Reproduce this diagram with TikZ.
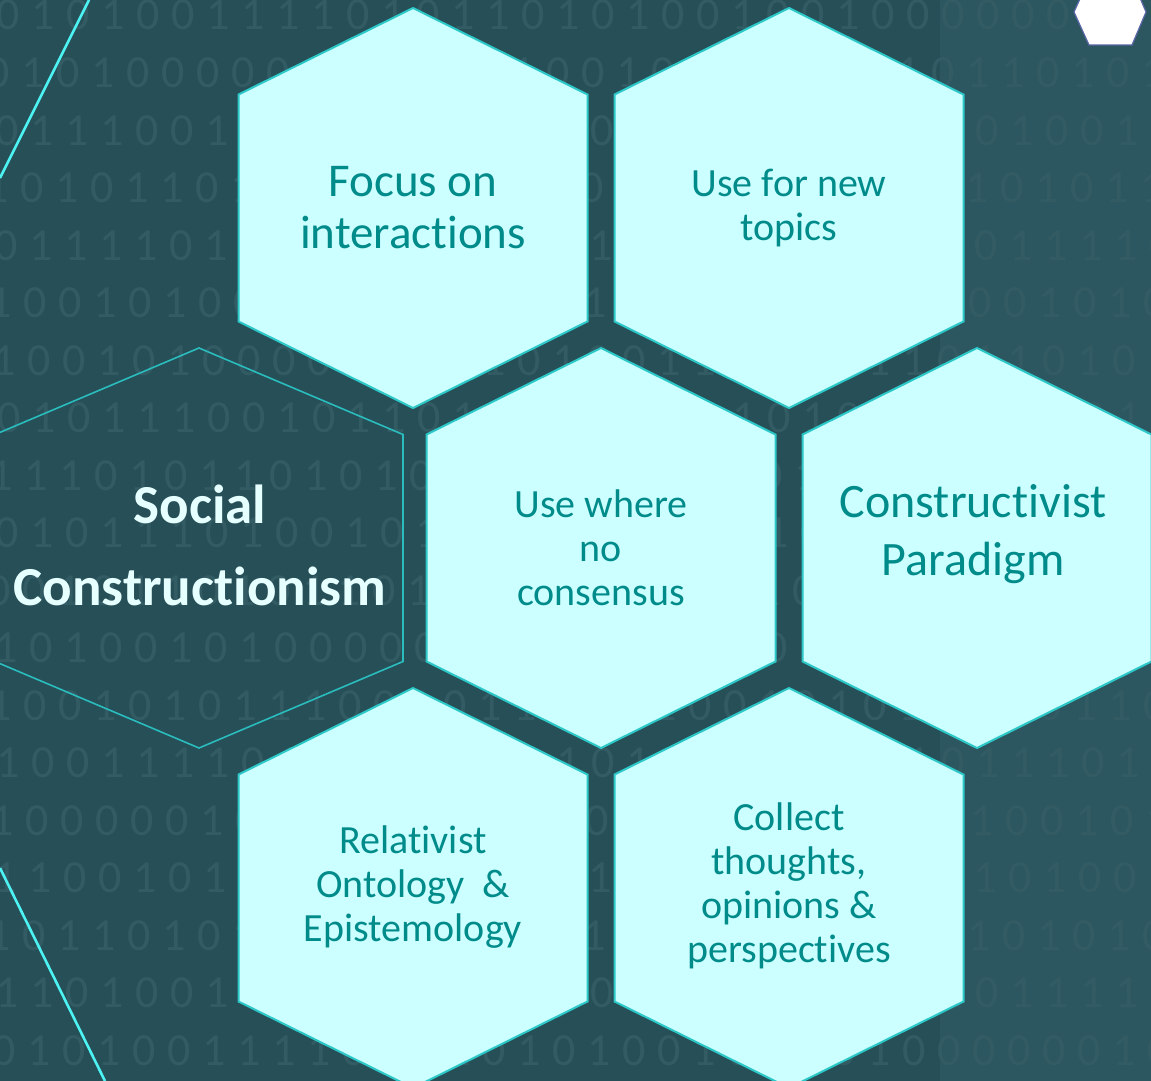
\documentclass[tikz,border=0pt]{standalone}
\usepackage{fontspec}
\setmainfont{Carlito}[Ligatures=NoCommon]
\definecolor{bgL}{HTML}{264F57}
\definecolor{bgR}{HTML}{2C5760}
\definecolor{bitcol}{HTML}{335B64}
\definecolor{hexfill}{HTML}{CCFFFF}
\definecolor{hexline}{HTML}{2CC8C8}
\definecolor{hextext}{HTML}{008B8B}
\definecolor{cyanline}{HTML}{4DF2F2}
\definecolor{outlinecol}{HTML}{2BBDBD}
\definecolor{socialtext}{HTML}{E6FFFF}
\definecolor{smallhexline}{HTML}{5A66A6}
\newcommand{\bitrow}[1]{\bitloop#1\relax}
\def\bitloop#1{\ifx#1\relax\else\makebox[35pt]{#1}\expandafter\bitloop\fi}
\newcommand{\honey}[4]{%
  \path[#4] (#1,#2-200) -- (#1+#3,#2-113.5) -- (#1+#3,#2+113.5) -- (#1,#2+200)
    -- (#1-#3,#2+113.5) -- (#1-#3,#2-113.5) -- cycle;}
\tikzset{
  hexcell/.style={fill=hexfill, draw=hexline, line width=2pt, line join=miter},
  hexoutline/.style={draw=outlinecol, line width=1.6pt},
  hexlabel/.style={text=hextext, align=center, inner sep=0pt, font=\fontsize{40}{44}\selectfont},
  sociallabel/.style={text=socialtext, align=center, inner sep=0pt, font=\fontsize{55}{82}\selectfont\bfseries},
  bitsrow/.style={text=bitcol, anchor=base west, inner sep=0pt, font=\fontsize{46}{46}\selectfont},
  deco/.style={draw=cyanline, line width=2.6pt}
}
\begin{document}
\begin{tikzpicture}[x=1pt,y=-1pt]
\useasboundingbox (0,0) rectangle (1151,1081);
\clip (0,0) rectangle (1151,1081);
% background
\fill[bgL] (0,0) rectangle (940,1081);
\fill[bgR] (940,0) rectangle (1151,1081);
% binary rows
\node[bitsrow] (r1)  at (-9.5,30)    {\bitrow{010100111101011010100100100000001011}};
\node[bitsrow] (r2)  at (-19.5,87.5) {\bitrow{010100000010101100100101001011010110}};
\node[bitsrow] (r3)  at (-10.5,145)  {\bitrow{011100101101001010110100110101001011}};
\node[bitsrow] (r4)  at (-20.5,202.5){\bitrow{101011010011010010100101010010101100}};
\node[bitsrow] (r5)  at (-12,260)    {\bitrow{011110100101101011010010110101111010}};
\node[bitsrow] (r6)  at (-18,317.5)  {\bitrow{100101001011010101100100100000101001}};
\node[bitsrow] (r7)  at (-14,375)    {\bitrow{100101000001011010011010011011010110}};
\node[bitsrow] (r8)  at (-9,432.5)   {\bitrow{010111001011010010101101011101001011}};
\node[bitsrow] (r9)  at (-17,490)    {\bitrow{111010110101010011010101101010110100}};
\node[bitsrow] (r10) at (-11,547.5)  {\bitrow{010111010010101101001010110101001011}};
\node[bitsrow] (r11) at (-19,605)    {\bitrow{001011010110101001011010010101101001}};
\node[bitsrow] (r12) at (-12,662.5)  {\bitrow{101001010000010101101001010010110101}};
\node[bitsrow] (r13) at (-18,720)    {\bitrow{100101011100101101010010101101011011}};
\node[bitsrow] (r14) at (-10,777.5)  {\bitrow{100111101011001010110100101011101011}};
\node[bitsrow] (r15) at (-16,835)    {\bitrow{100000101101010010110101011010010101}};
\node[bitsrow] (r16) at (-13,892.5)  {\bitrow{110010110101101001010011010110100101}};
\node[bitsrow] (r17) at (-19,950)    {\bitrow{101101011010100101101010010110101011}};
\node[bitsrow] (r18) at (-11,1007.5) {\bitrow{110100101101010110101001011101111010}};
\node[bitsrow] (r19) at (-14,1065)   {\bitrow{010100111101010101001011010000001011}};
% decorative cyan lines
\coordinate (la) at (89,0);
\coordinate (lb) at (0,178);
\coordinate (lc) at (0,868);
\coordinate (ld) at (105,1081);
\draw[deco] (la) -- (lb);
\draw[deco] (lc) -- (ld);
% outline hexagon
\honey{199}{548}{204}{hexoutline}
% filled hexagons
\honey{413}{208}{174.5}{hexcell}
\honey{789}{208}{174.5}{hexcell}
\honey{601}{548}{174.5}{hexcell}
\honey{977}{548}{174.5}{hexcell}
\honey{413}{888}{174.5}{hexcell}
\honey{789}{888}{174.5}{hexcell}
% small white hexagon top right
\path[fill=white, draw=smallhexline, line width=1.2pt] (1074,12) -- (1089,45) -- (1132,45) -- (1146,12) -- (1132,-21) -- (1089,-21) -- cycle;
% labels
\node[sociallabel] (social) at (200,545) {Social\\Constructionism};
\node[hexlabel, font=\fontsize{47}{52}\selectfont] (focus) at (413,208) {Focus on\\interactions};
\node[hexlabel] (newtopics) at (789,208) {Use for new\\topics};
\node[hexlabel] (consensus) at (601,548) {Use where\\no\\consensus};
\node[hexlabel, font=\fontsize{48}{58}\selectfont] (paradigm) at (973,534) {Constructivist\\Paradigm};
\node[hexlabel] (relativist) at (413,887) {Relativist\\Ontology\ \ \&\\Epistemology};
\node[hexlabel] (collect) at (789,886) {Collect\\thoughts,\\opinions \&\\perspectives};
\end{tikzpicture}
\end{document}
